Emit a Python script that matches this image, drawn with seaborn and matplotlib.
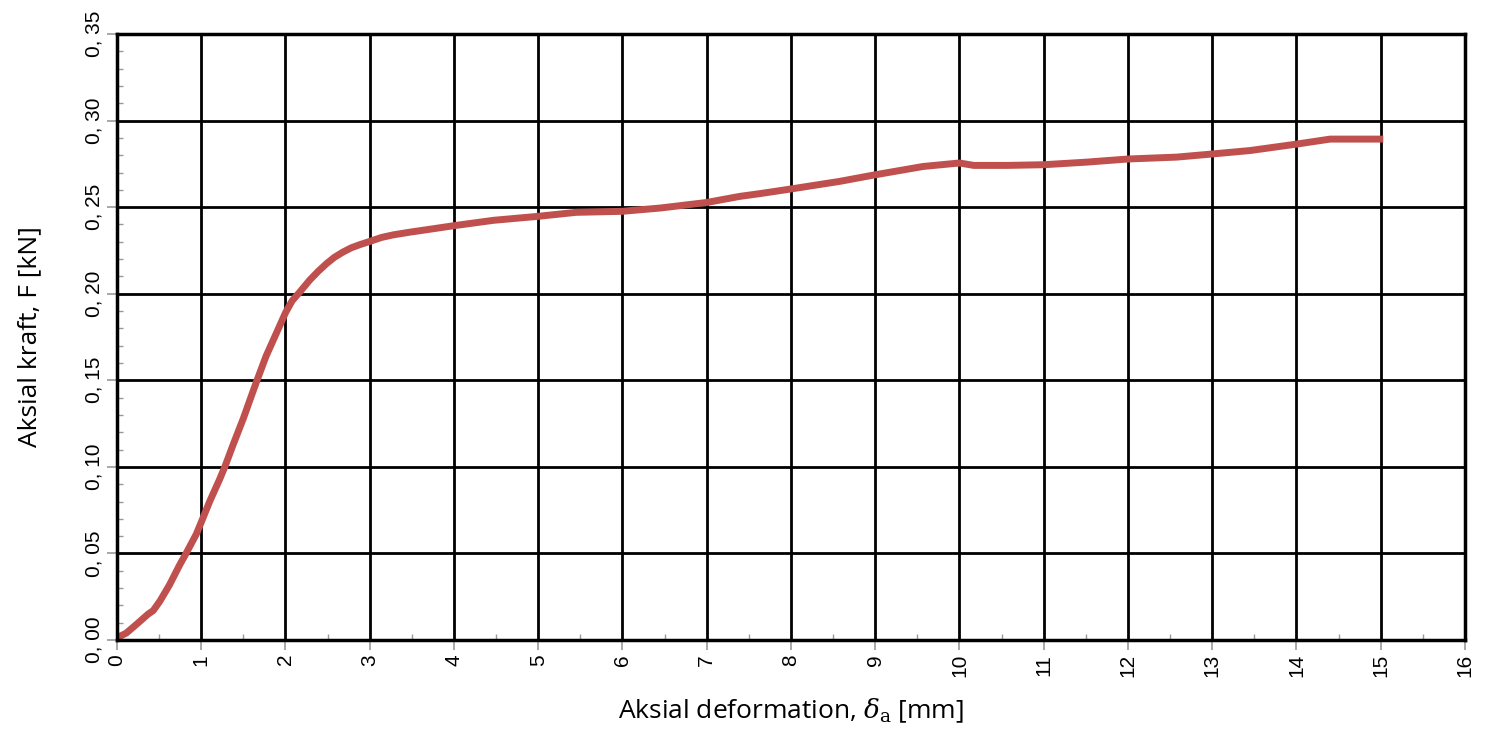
import numpy as np
import pandas as pd
import seaborn as sns
import matplotlib.pyplot as plt
from matplotlib.ticker import MultipleLocator

# deformation [mm] and force [kN]
deformation = [0.0, 0.11, 0.23, 0.37, 0.43, 0.51, 0.625, 0.74, 0.82, 0.94, 1.0,
               1.10, 1.22, 1.28, 1.38, 1.50, 1.61, 1.67, 1.77, 1.89, 2.0,
               2.08, 2.17, 2.29, 2.39, 2.49, 2.58, 2.68, 2.78, 2.88, 3.0, 3.14, 3.28, 3.47, 3.75, 4.0, 4.47,
               5.0, 5.45, 6.0, 6.45, 7.0, 7.39, 7.63, 8.0, 8.58, 9.0,
               9.57, 10.0, 10.17, 10.56, 11.0, 11.51, 12.0, 12.58, 13.0,
               13.45, 14.0, 14.4, 15.03]
force = [0.0013, 0.004, 0.009, 0.015, 0.017, 0.0225, 0.032, 0.043, 0.050, 0.061, 0.068,
         0.080, 0.093, 0.100, 0.113, 0.128, 0.143, 0.151, 0.164, 0.177, 0.189,
         0.196, 0.201, 0.208, 0.213, 0.2175, 0.221, 0.224, 0.2265, 0.2283, 0.2302, 0.2325, 0.234, 0.2355, 0.2375, 0.2393, 0.2424,
         0.2447, 0.247, 0.2476, 0.2495, 0.2527, 0.2562, 0.2578, 0.2605, 0.2649, 0.2687,
         0.2735, 0.2755, 0.2741, 0.2741, 0.2745, 0.276, 0.2778, 0.2789, 0.2807,
         0.2827, 0.2864, 0.2893, 0.2893]

x_ticks = list(range(0, 17))
y_ticks = [0.00, 0.05, 0.10, 0.15, 0.20, 0.25, 0.30, 0.35]
y_labels = ["0, %02d" % round(v * 100) for v in y_ticks]

df = pd.DataFrame({"d": deformation, "F": force})

sns.set_style("white")
plt.rcParams['font.family'] = ['Liberation Sans', 'DejaVu Sans']
plt.rcParams['mathtext.fontset'] = 'dejavuserif'
plt.rcParams['text.color'] = 'black'
plt.rcParams['xtick.labelcolor'] = 'black'
plt.rcParams['ytick.labelcolor'] = 'black'
plt.rcParams['axes.labelcolor'] = 'black'

fig = plt.figure(figsize=(14.92, 7.34), dpi=100)
ax = fig.add_axes([0.0784, 0.128, 0.9035, 0.8257])

sns.lineplot(data=df, x="d", y="F", ax=ax, color="#c0504d", linewidth=5,
             solid_capstyle="butt")

ax.set_xlim(0, 16)
ax.set_ylim(0, 0.35)
ax.set_xticks(x_ticks)
ax.set_xticklabels([str(v) for v in x_ticks], rotation=90, fontsize=15)
ax.set_yticks(y_ticks)
ax.set_yticklabels(y_labels, rotation=90, va="center", fontsize=15)
ax.xaxis.set_minor_locator(MultipleLocator(0.5))
ax.yaxis.set_minor_locator(MultipleLocator(0.01))

ax.grid(True, which="major", color="black", linewidth=2)
ax.tick_params(which="major", direction="out", length=7, width=1.2, color="#999999", pad=3)
ax.tick_params(which="minor", direction="in", length=4, width=1, color="#999999")
ax.tick_params(axis="both", which="both", bottom=True, left=True)
for s in ax.spines.values():
    s.set_color("black")
    s.set_linewidth(2.5)

ax.set_xlabel(r"Aksial deformation, $\delta_\mathrm{a}$ [mm]", fontsize=19,
              family="Open Sans", labelpad=14)
ax.set_ylabel("Aksial kraft, F [kN]", fontsize=19, family="Open Sans", labelpad=30)

fig.savefig("out.png", dpi=100)
